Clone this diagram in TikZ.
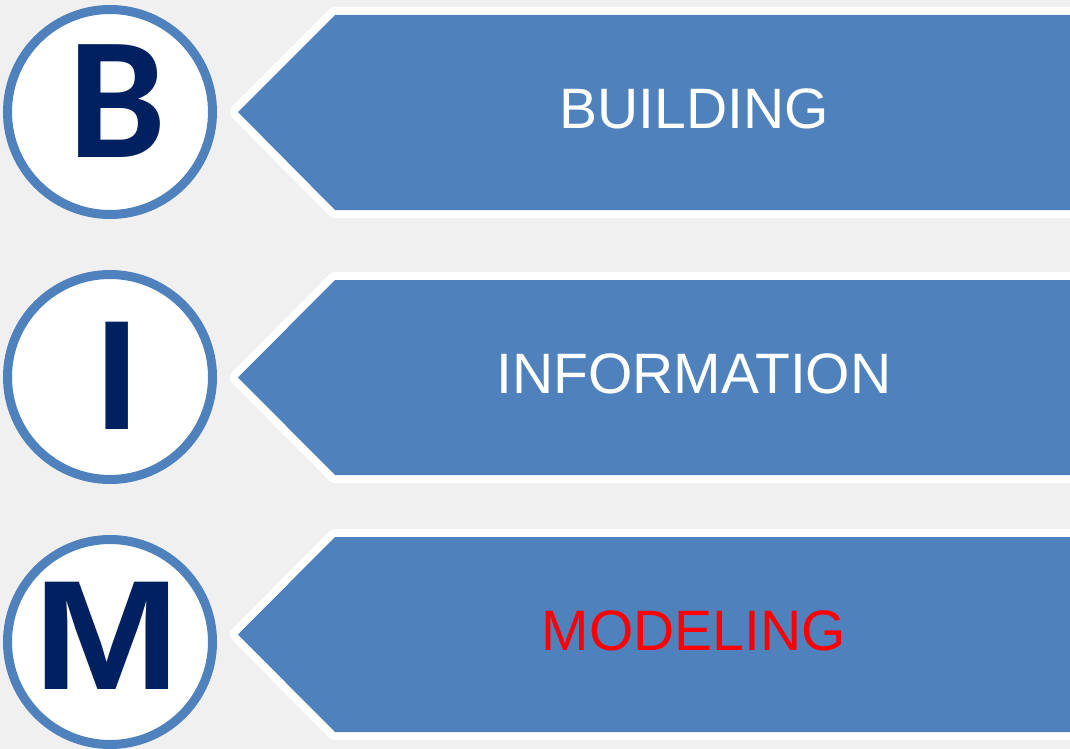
\documentclass[tikz,border=0pt]{standalone}
\usepackage{fontspec}
\setmainfont{Liberation Sans}
\newfontfamily\circfont{Carlito}
\definecolor{bimblue}{RGB}{79,129,189}
\definecolor{bimnavy}{RGB}{0,32,96}
\definecolor{bimback}{RGB}{240,240,240}

\begin{document}
\begin{tikzpicture}[x=1pt,y=-1pt,
ring/.style={circle,draw=bimblue,line width=9pt,fill=white,
minimum size=205pt,inner sep=0pt},
letter/.style={text=bimnavy,inner sep=0pt,
font=\fontsize{156}{160}\selectfont\bfseries},
word/.style={inner sep=0pt,font=\fontsize{57}{60}\selectfont},
rim/.style={draw=white,line width=16pt,line join=round},
body/.style={fill=bimblue}]
\fill [bimback] (0,0) rectangle (1070,749);
\useasboundingbox (0,0) rectangle (1070,749);
\clip (0,0) rectangle (1070,749);

% B
\node (ringB) [ring] at (110,112) {};
\node (letB) [letter,font=\circfont\fontsize{174}{178}\selectfont\bfseries]
at (117,101) {B};
\draw [rim] (238,112) -- (335,15) -- (1080,15) -- (1080,210)
-- (335,210) -- cycle;
\fill [body] (238,112) -- (335,15) -- (1080,15) -- (1080,210)
-- (335,210) -- cycle;
\node (wordB) [word,text=white] at (694,109) {BUILDING};

% I
\node (ringI) [ring] at (110,377) {};
\node (letI) [letter] at (117,376) {I};
\draw [rim] (238,377.5) -- (335,280) -- (1080,280) -- (1080,475)
-- (335,475) -- cycle;
\fill [body] (238,377.5) -- (335,280) -- (1080,280) -- (1080,475)
-- (335,475) -- cycle;
\node (wordI) [word,text=white] at (694,374) {INFORMATION};

% M
\node (ringM) [ring] at (110,642) {};
\node (letM) [letter] at (107,636) {\scalebox{1.13}[1]{M}};
\draw [rim] (238,634.5) -- (335,537) -- (1080,537) -- (1080,732)
-- (335,732) -- cycle;
\fill [body] (238,634.5) -- (335,537) -- (1080,537) -- (1080,732)
-- (335,732) -- cycle;
\node (wordM) [word,text=red] at (694,631) {MODELING};
\end{tikzpicture}
\end{document}
